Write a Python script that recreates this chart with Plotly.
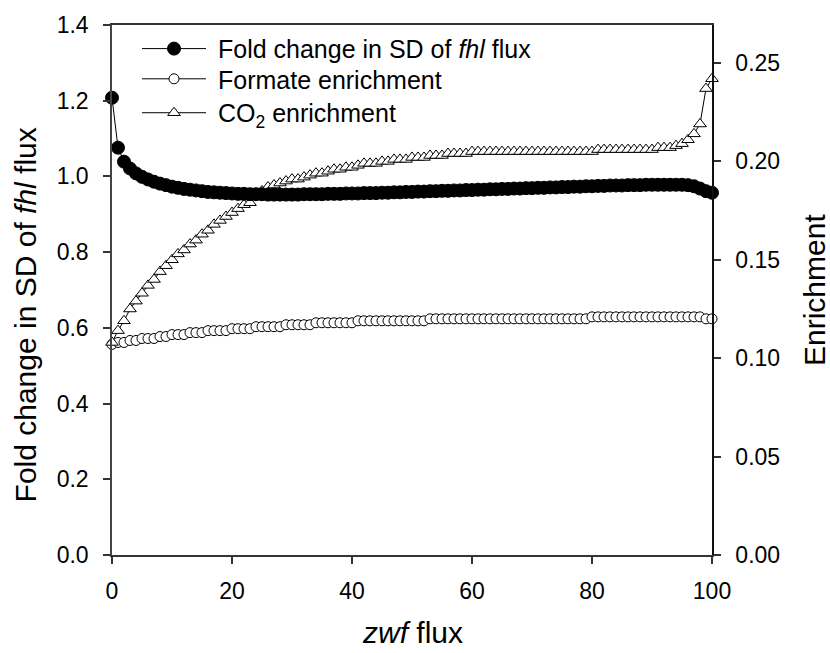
import plotly.graph_objects as go

zwf_flux = list(range(0, 101))

fold_change_sd_fhl = [
    1.208, 1.076, 1.039, 1.021, 1.008, 0.999, 0.992, 0.986, 0.981, 0.977,
    0.973, 0.970, 0.967, 0.965, 0.963, 0.961, 0.959, 0.958, 0.957, 0.956,
    0.955, 0.954, 0.954, 0.953, 0.953, 0.953, 0.952, 0.952, 0.952, 0.952,
    0.952, 0.952, 0.953, 0.953, 0.953, 0.953, 0.954, 0.954, 0.954, 0.955,
    0.955, 0.955, 0.956, 0.956, 0.956, 0.957, 0.957, 0.958, 0.958, 0.959,
    0.959, 0.960, 0.960, 0.961, 0.961, 0.962, 0.962, 0.963, 0.963, 0.964,
    0.964, 0.965, 0.965, 0.966, 0.966, 0.967, 0.967, 0.968, 0.968, 0.969,
    0.969, 0.970, 0.970, 0.971, 0.971, 0.972, 0.972, 0.973, 0.973, 0.974,
    0.974, 0.975, 0.975, 0.976, 0.976, 0.976, 0.977, 0.977, 0.977, 0.978,
    0.978, 0.978, 0.978, 0.978, 0.978, 0.978, 0.977, 0.974, 0.968, 0.961,
    0.957,
]

formate_enrichment = [
    0.107, 0.108, 0.108, 0.109, 0.109, 0.110, 0.110, 0.110, 0.111, 0.111,
    0.112, 0.112, 0.112, 0.113, 0.113, 0.113, 0.114, 0.114, 0.114, 0.114,
    0.115, 0.115, 0.115, 0.115, 0.116, 0.116, 0.116, 0.116, 0.116, 0.117,
    0.117, 0.117, 0.117, 0.117, 0.118, 0.118, 0.118, 0.118, 0.118, 0.118,
    0.118, 0.119, 0.119, 0.119, 0.119, 0.119, 0.119, 0.119, 0.119, 0.119,
    0.119, 0.119, 0.119, 0.120, 0.120, 0.120, 0.120, 0.120, 0.120, 0.120,
    0.120, 0.120, 0.120, 0.120, 0.120, 0.120, 0.120, 0.120, 0.120, 0.120,
    0.120, 0.120, 0.120, 0.120, 0.120, 0.120, 0.120, 0.120, 0.120, 0.120,
    0.121, 0.121, 0.121, 0.121, 0.121, 0.121, 0.121, 0.121, 0.121, 0.121,
    0.121, 0.121, 0.121, 0.121, 0.121, 0.121, 0.121, 0.121, 0.121, 0.120,
    0.120,
]

co2_enrichment = [
    0.108, 0.114, 0.119, 0.125, 0.129, 0.133, 0.137, 0.140, 0.144, 0.147,
    0.150, 0.153, 0.155, 0.158, 0.160, 0.163, 0.165, 0.168, 0.170, 0.172,
    0.174, 0.176, 0.178, 0.179, 0.182, 0.185, 0.187, 0.188, 0.189, 0.190,
    0.191, 0.191, 0.192, 0.193, 0.194, 0.194, 0.195, 0.196, 0.196, 0.197,
    0.197, 0.198, 0.199, 0.199, 0.199, 0.200, 0.200, 0.201, 0.201, 0.201,
    0.202, 0.202, 0.202, 0.203, 0.203, 0.203, 0.204, 0.204, 0.204, 0.204,
    0.205, 0.205, 0.205, 0.205, 0.205, 0.205, 0.205, 0.205, 0.205, 0.205,
    0.205, 0.205, 0.205, 0.205, 0.205, 0.205, 0.205, 0.205, 0.205, 0.205,
    0.205, 0.206, 0.206, 0.206, 0.206, 0.206, 0.206, 0.206, 0.206, 0.206,
    0.206, 0.207, 0.207, 0.207, 0.208, 0.209, 0.211, 0.214, 0.219, 0.237,
    0.242,
]

series_names = [
    "&nbsp;Fold change in SD of <i>fhl</i> flux",
    "&nbsp;Formate enrichment",
    "&nbsp;CO<sub>2</sub> enrichment",
]

x_ticks = [0, 20, 40, 60, 80, 100]
left_ticks = [0.0, 0.2, 0.4, 0.6, 0.8, 1.0, 1.2, 1.4]
right_ticks = [0.00, 0.05, 0.10, 0.15, 0.20, 0.25]

FONT = "Liberation Sans, Arial, sans-serif"

fig = go.Figure()

fig.add_trace(go.Scatter(
    x=zwf_flux, y=fold_change_sd_fhl, name=series_names[0],
    mode="lines+markers", yaxis="y2", cliponaxis=False, legend="legend",
    line=dict(color="black", width=1),
    marker=dict(symbol="circle", size=13, color="black",
                line=dict(color="black", width=1)),
))
fig.add_trace(go.Scatter(
    x=zwf_flux, y=formate_enrichment, name=series_names[1],
    mode="lines+markers", yaxis="y", cliponaxis=False, legend="legend2",
    line=dict(color="black", width=1),
    marker=dict(symbol="circle", size=10, color="white",
                line=dict(color="black", width=1)),
))
fig.add_trace(go.Scatter(
    x=zwf_flux, y=co2_enrichment, name=series_names[2],
    mode="lines+markers", yaxis="y", cliponaxis=False, legend="legend3",
    line=dict(color="black", width=1),
    marker=dict(symbol="triangle-up", size=11, color="white",
                line=dict(color="black", width=1)),
))

legend_common = dict(x=0.0417, xanchor="left", yanchor="middle",
                     bgcolor="rgba(0,0,0,0)", font=dict(size=25, family=FONT),
                     tracegroupgap=0, itemwidth=64)

fig.update_layout(
    width=830, height=653,
    margin=dict(l=112, r=118, t=20, b=98),
    paper_bgcolor="white", plot_bgcolor="white",
    font=dict(family=FONT, size=23, color="black"),
    showlegend=True,
    legend=dict(y=0.955, **legend_common),
    legend2=dict(y=0.898, **legend_common),
    legend3=dict(y=0.834, **legend_common),
    xaxis=dict(range=[0, 100], tickvals=x_ticks, ticks="outside", ticklen=7,
               tickwidth=1.5, tickcolor="#333", showline=True, linecolor="#333",
               linewidth=1.5, mirror=True, showgrid=False, zeroline=False,
               ticklabelstandoff=8, tickfont=dict(size=23)),
    yaxis=dict(range=[0, 0.2693], tickvals=right_ticks, tickformat=".2f",
               side="right", ticks="outside", ticklen=7, tickwidth=1.5,
               tickcolor="#333", showline=True, linecolor="#111", linewidth=1.5,
               showgrid=False, zeroline=False, ticklabelstandoff=10,
               tickfont=dict(size=23)),
    yaxis2=dict(range=[0, 1.4], tickvals=left_ticks, tickformat=".1f",
                side="left", overlaying="y", ticks="outside", ticklen=7,
                tickwidth=1.5, tickcolor="#333", showline=True,
                linecolor="#444", linewidth=1.5, showgrid=False,
                zeroline=False, ticklabelstandoff=10,
                tickfont=dict(size=23)),
    annotations=[
        dict(text="<i>zwf</i> flux", xref="paper", yref="paper",
             x=0.5, y=-0.146, xanchor="center", yanchor="middle",
             showarrow=False, font=dict(size=30, family=FONT)),
        dict(text="Fold change in SD of <i>fhl</i> flux", xref="paper",
             yref="paper", x=-0.145, y=0.452, xanchor="center",
             yanchor="middle", textangle=-90, showarrow=False,
             font=dict(size=30, family=FONT)),
        dict(text="Enrichment", xref="paper", yref="paper",
             x=1.17, y=0.5, xanchor="center", yanchor="middle",
             textangle=-90, showarrow=False,
             font=dict(size=30, family=FONT)),
    ],
)

fig.write_html(
    "out.html",
    config={"displayModeBar": False},
    post_script="document.body.style.margin='0';document.body.style.overflow='hidden';",
)
